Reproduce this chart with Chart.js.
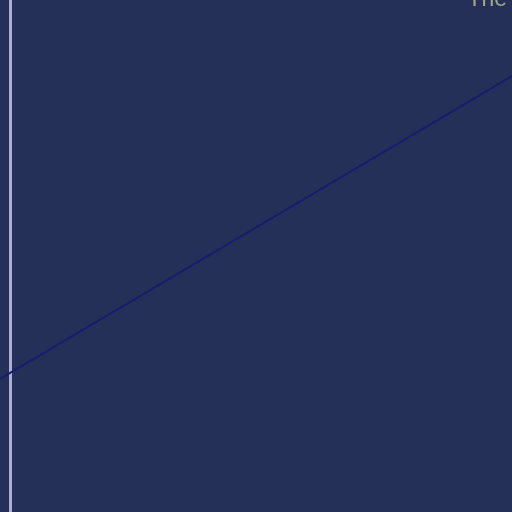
<!DOCTYPE html>
<html>
<head>
<meta charset="utf-8">
<script src="https://cdn.jsdelivr.net/npm/chart.js@4"></script>
<style>
  html, body { margin: 0; padding: 0; width: 512px; height: 512px; overflow: hidden; background: #243058; }
  #wrap { position: relative; width: 512px; height: 512px; overflow: hidden; }
  #myChart { position: absolute; left: -110px; top: -24px; background: #243058; }
</style>
</head>
<body>
<div id="wrap">
  <canvas id="myChart" width="1362" height="600"></canvas>
</div>
<script>
// zoomed-in view of a straight line, y axis at x = 0

var xValues = [-2, 20];
var yValues = [0, 13];
var titleText = 'The slope of the line';

var points = xValues.map(function (x, i) {
    return { x: x, y: yValues[i] };
});

new Chart("myChart", {
    type: "line",
    data: {
        datasets: [{
            label: 'y',
            data: points,
            borderColor: "#191c6e",
            borderWidth: 2,
            pointRadius: 0,
            fill: false
        }]
    },
    options: {
        responsive: false,
        animation: false,
        devicePixelRatio: 1,
        layout: { padding: 0 },
        plugins: {
            legend: { display: false },
            tooltip: { enabled: false },
            title: {
                display: true,
                text: titleText,
                color: '#a7a48e',
                font: { family: "'Liberation Sans', Arial, sans-serif", size: 23, weight: 'normal' },
                // negative bottom padding lets the plot run up under the title
                padding: { top: 10, bottom: -20 }
            }
        },
        scales: {
            x: {
                type: 'linear',
                min: -2,
                max: 20.7,
                ticks: { display: false, stepSize: 1 },
                border: { display: false },
                grid: {
                    drawTicks: false,
                    color: function (ctx) {
                        return ctx.tick && ctx.tick.value === 0 ? '#abafd3' : 'rgba(0,0,0,0)';
                    },
                    lineWidth: 3
                }
            },
            y: {
                display: false,
                min: -2.2,
                max: 7.5
            }
        }
    }
});
</script>
</body>
</html>
